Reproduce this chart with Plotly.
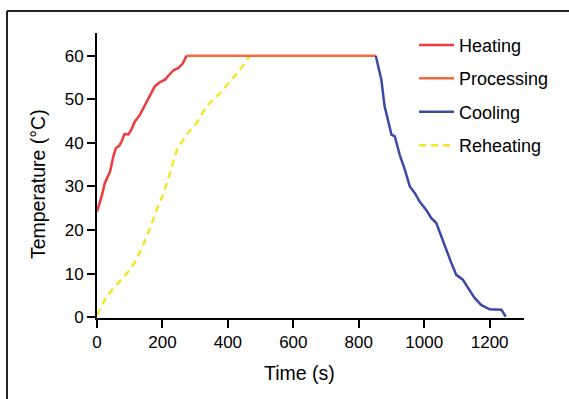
import plotly.graph_objects as go

# Heating phase
heat_t = [0, 14, 24, 40, 50, 58, 68, 75, 84, 96, 106, 116, 131, 147, 162, 177, 192, 208, 218, 233, 249, 262, 274]
heat_T = [24.2, 27.7, 30.8, 33.4, 36.9, 38.8, 39.3, 40.3, 42.0, 41.9, 43.2, 44.9, 46.4, 48.8, 50.8, 53.0, 53.9, 54.5, 55.4, 56.6, 57.2, 58.2, 60.0]
# Processing phase
proc_t = [274, 852]
proc_T = [60, 60]
# Cooling phase
cool_t = [852, 869, 879, 890, 900, 910, 925, 941, 956, 971, 986, 1006, 1022, 1037, 1052, 1068, 1083, 1098, 1118, 1134, 1154, 1174, 1200, 1236, 1249]
cool_T = [60, 54.5, 48.4, 45.3, 41.9, 41.5, 37.3, 33.8, 30.0, 28.5, 26.5, 24.6, 22.7, 21.6, 18.5, 15.5, 12.4, 9.7, 8.6, 6.7, 4.4, 2.8, 1.8, 1.7, 0.1]
# Reheating phase
reh_t = [0, 24, 50, 75, 101, 121, 141, 162, 182, 202, 223, 244, 274, 304, 335, 376, 416, 437, 467]
reh_T = [0.5, 4.0, 6.7, 8.6, 10.9, 13.2, 16.6, 20.4, 24.6, 28.1, 33.0, 38.4, 41.9, 44.5, 48.4, 51.4, 54.9, 56.8, 60.0]

x_ticks = [0, 200, 400, 600, 800, 1000, 1200]
y_ticks = [0, 10, 20, 30, 40, 50, 60]

FONT = "Liberation Sans, Arial, Helvetica, sans-serif"

fig = go.Figure()
fig.add_trace(go.Scatter(x=reh_t, y=reh_T, mode="lines", name="Reheating",
                         line=dict(color="#f2e62a", width=2.5, dash="7px,5px"),
                         legendrank=4, legendgroup="d"))
fig.add_trace(go.Scatter(x=heat_t, y=heat_T, mode="lines", name="Heating",
                         line=dict(color="#ef3b3b", width=2.5), legendrank=1, legendgroup="a"))
fig.add_trace(go.Scatter(x=proc_t, y=proc_T, mode="lines", name="Processing",
                         line=dict(color="#f2693a", width=2.5), legendrank=2, legendgroup="b"))
fig.add_trace(go.Scatter(x=cool_t, y=cool_T, mode="lines", name="Cooling",
                         line=dict(color="#3b4aa5", width=2.5), legendrank=3, legendgroup="c"))

axis_common = dict(showgrid=False, zeroline=False, showline=True, linecolor="black", linewidth=2,
                   ticks="outside", ticklen=8, tickwidth=2, tickcolor="black",
                   tickfont=dict(family=FONT, size=17, color="black"))

fig.update_xaxes(range=[0, 1305], tickvals=x_ticks, ticktext=[str(v) for v in x_ticks], **axis_common)
fig.update_yaxes(range=[-0.2, 65.2], tickvals=y_ticks, ticktext=[str(v) for v in y_ticks], **axis_common)

# axis titles
fig.add_annotation(text="Time (s)", xref="paper", yref="paper", x=0.475, y=-0.193,
                   xanchor="center", yanchor="middle", showarrow=False,
                   font=dict(family=FONT, size=19.5, color="black"))
fig.add_annotation(text="Temperature (°C)", xref="paper", yref="paper", x=-0.138, y=0.47,
                   xanchor="center", yanchor="middle", showarrow=False, textangle=-90,
                   font=dict(family=FONT, size=19.5, color="black"))

# frame lines (left and top border)
fig.add_shape(type="line", xref="paper", yref="paper", x0=-0.2108, x1=-0.2108, y0=1.0775, y1=-0.35,
              line=dict(color="#222222", width=2))
fig.add_shape(type="line", xref="paper", yref="paper", x0=-0.2108, x1=1.2, y0=1.0775, y1=1.0775,
              line=dict(color="#222222", width=2))

fig.update_layout(
    width=569, height=399,
    margin=dict(l=97, r=45, t=33, b=81),
    paper_bgcolor="white", plot_bgcolor="white",
    font=dict(family=FONT, color="black"),
    showlegend=True,
    legend=dict(x=0.7424, y=1.022, xanchor="left", yanchor="top", bgcolor="rgba(0,0,0,0)",
                font=dict(family=FONT, size=18, color="black"), traceorder="grouped",
                tracegroupgap=7, itemwidth=35),
)

fig.write_html("out.html", config={"displayModeBar": False},
               post_script="document.body.style.margin='0px';document.body.style.overflow='hidden';")
